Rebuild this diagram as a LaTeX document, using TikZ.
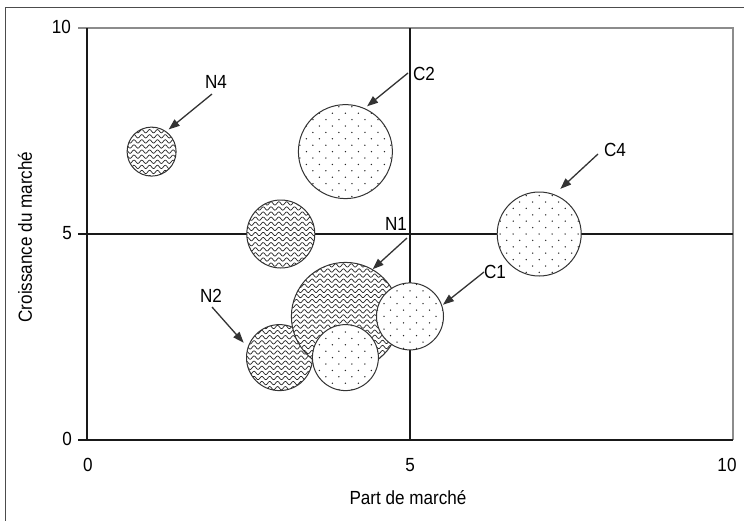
\documentclass[tikz,border=0pt]{standalone}
\usepackage{fontspec}
\setmainfont{Liberation Sans}[FakeStretch=0.9]
\usetikzlibrary{arrows.meta}
\tikzset{
  lbl/.style={inner sep=0pt, font=\fontsize{19}{22}\selectfont},
  bubble/.style={circle, draw=black!80, line width=1pt, inner sep=0pt, fill=white},
  wavy/.style={bubble, path picture={
    \begin{scope}[shift={(path picture bounding box.center)}]
      \foreach \k in {-11,...,11}
        \draw[line width=0.7pt, black!85] plot[domain=-56:56, samples=113] (\x, {\k*5.1 + 1.7*sin(\x*46)});
    \end{scope}}},
  dotty/.style={bubble, path picture={
    \begin{scope}[shift={(path picture bounding box.center)}]
      \foreach \r in {-8,...,8}
        \foreach \c in {-5,...,5}
          \fill[black!85] ({\c*13+mod(abs(\r),2)*6.5},{\r*6.4}) circle (0.75);
    \end{scope}}},
  arr/.style={draw=black!80, line width=1.3pt, -{Triangle[length=11pt,width=8pt]}},
  axisline/.style={line width=1.1pt, black!90},
  boxgray/.style={line width=1.1pt, black!45}
}
\begin{document}
\begin{tikzpicture}[x=1pt,y=-1pt]
\useasboundingbox (0,0) rectangle (744,520);
\fill[white] (0,0) rectangle (744,520);
% outer frame
\draw[line width=1pt, black!70] (5,530) -- (5,7) -- (750,7);
% plot box
\draw[boxgray] (78,28) -- (733,28) -- (733,440);
\draw[axisline] (87,28) -- (87,440);
\draw[axisline] (78,440) -- (733,440);
\draw[axisline] (78,234) -- (733,234);
\draw[axisline] (410,28) -- (410,440);
% tick labels
\node[lbl, anchor=east] (y10) at (71,27) {10};
\node[lbl, anchor=east] (y5) at (72,233) {5};
\node[lbl, anchor=east] (y0) at (72,439) {0};
\node[lbl, anchor=base] (x0) at (88,471) {0};
\node[lbl, anchor=base] (x5) at (410,471) {5};
\node[lbl, anchor=base] (x10) at (727,471) {10};
\node[lbl, anchor=base] (xt) at (408,504) {Part de marché};
\node[lbl, rotate=90] (yt) at (25,237) {Croissance du marché};
% bubbles
\node[wavy, minimum size=49pt] (n4) at (151.6,151.6) {};
\node[dotty, minimum size=94pt] (c2) at (345.4,151.6) {};
\node[wavy, minimum size=68pt] (n3) at (280.8,234) {};
\node[dotty, minimum size=84pt] (c4) at (539.2,234) {};
\node[wavy, minimum size=66pt] (n2) at (279.5,357.6) {};
\node[wavy, minimum size=108pt] (n1) at (345.4,316.4) {};
\node[dotty, minimum size=66pt] (c3) at (345.4,357.6) {};
\node[dotty, minimum size=67pt] (c1) at (410,316.4) {};
% labels
\node[lbl] (ln4) at (216,82) {N4};
\node[lbl] (lc2) at (424,74) {C2};
\node[lbl] (lc4) at (615,150) {C4};
\node[lbl] (ln1) at (396,224) {N1};
\node[lbl] (lc1) at (495,272) {C1};
\node[lbl] (ln2) at (211,296) {N2};
\coordinate (sn4) at (212,94);
\coordinate (sc2) at (408,73);
\coordinate (sc4) at (598,154);
\coordinate (sn1) at (407,238);
\coordinate (sc1) at (484,272);
\coordinate (sn2) at (212,307);
% arrows
\draw[arr, shorten >=3pt] (sn4) -- (n4.54);
\draw[arr, shorten >=3pt] (sc2) -- (c2.66);
\draw[arr, shorten >=8pt] (sc4) -- (c4.69);
\draw[arr] (sn1) -- (n1.60);
\draw[arr, shorten >=1pt] (sc1) -- (c1.19);
\draw[arr, shorten >=6pt] (sn2) -- (n2.162);
\end{tikzpicture}
\end{document}
